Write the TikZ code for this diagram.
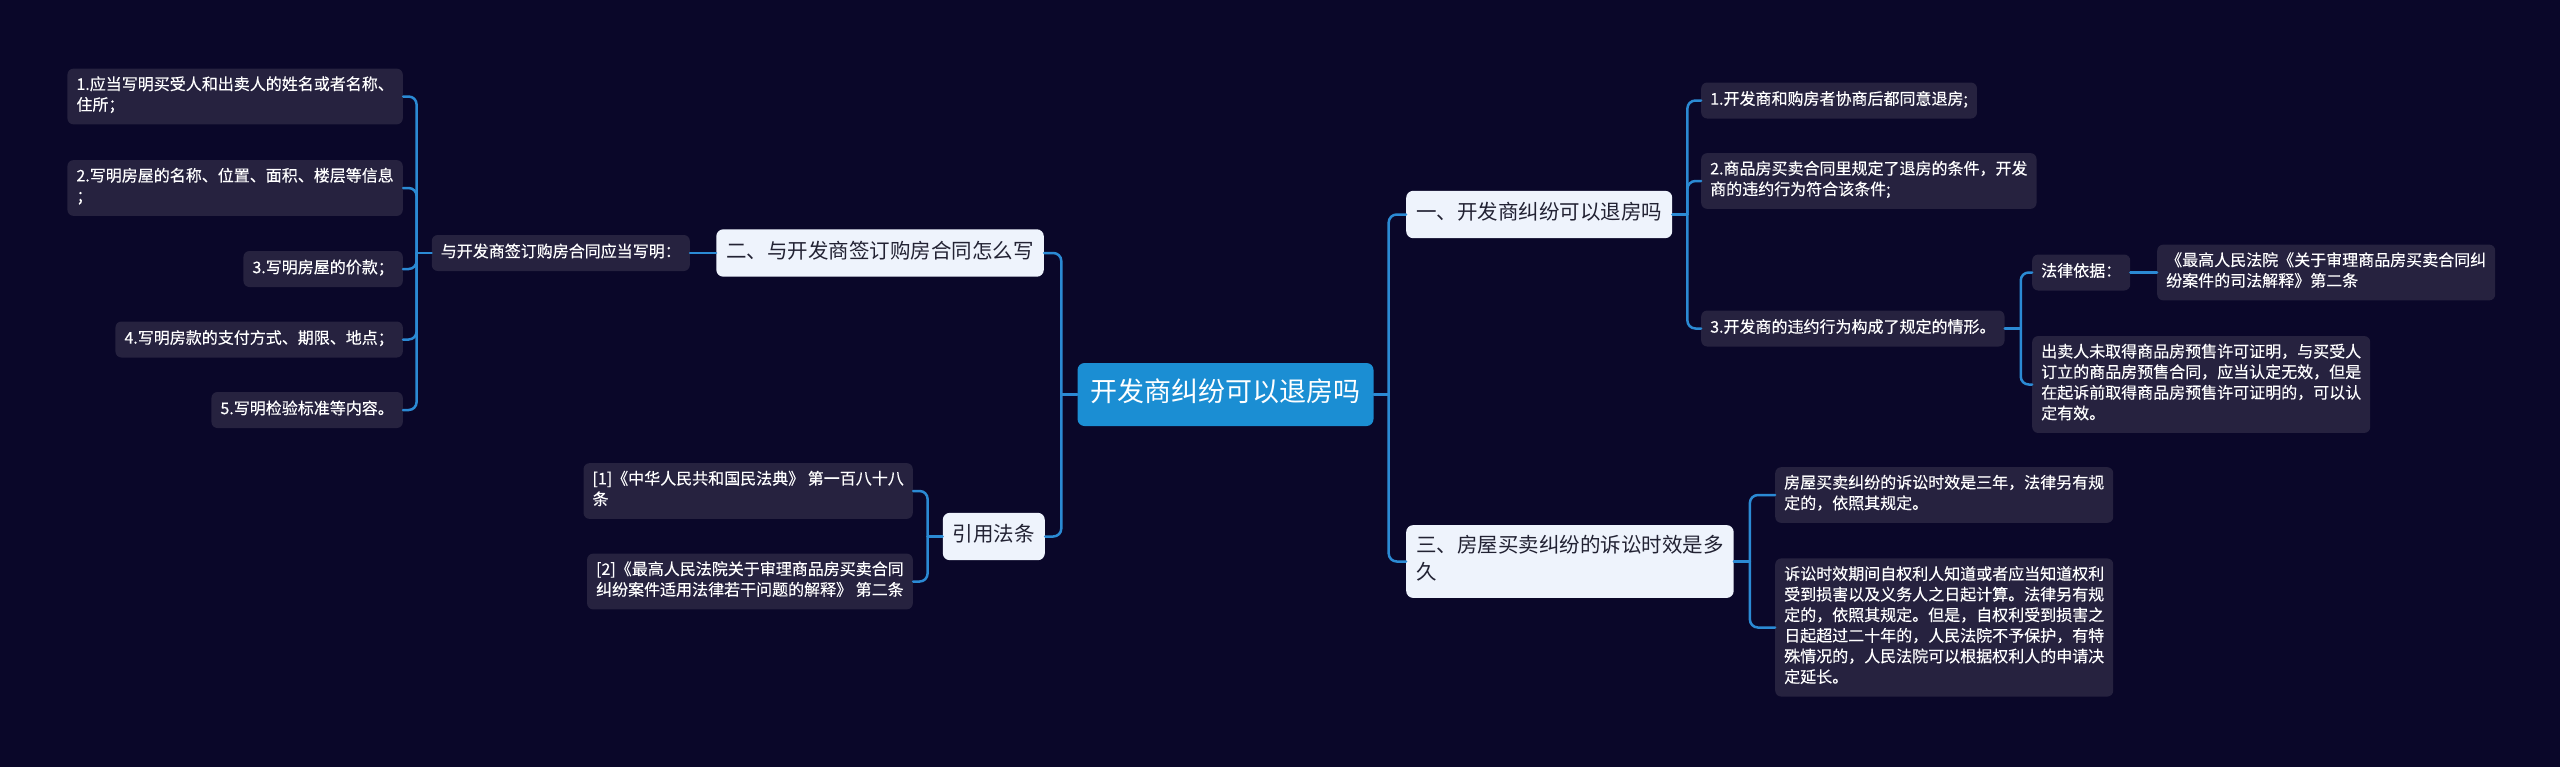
\documentclass[tikz,border=0pt]{standalone}
\usepackage{fontspec}
\newfontfamily\cjk{Noto Sans CJK SC}
\newfontfamily\cjkleaf[FakeBold=0.3]{Noto Sans CJK SC}
\definecolor{bgnavy}{HTML}{0A0729}
\definecolor{leaffill}{HTML}{26223F}
\definecolor{topicfill}{HTML}{EEF3FC}
\definecolor{topictext}{HTML}{222233}
\definecolor{rootblue}{HTML}{1B8ED3}
\definecolor{linkblue}{HTML}{2B8AD4}

\begin{document}
\begin{tikzpicture}[x=1pt,y=-1pt]
    % Define styles
    \tikzset{
        leaf/.style={fill=leaffill, text=white, rounded corners=6, inner xsep=9, inner ysep=7.7,
            align=left, font=\cjkleaf\fontsize{16}{20.6}\selectfont,
            execute at begin node=\strut, execute at end node=\strut},
        topic/.style={fill=topicfill, text=topictext, rounded corners=7, inner xsep=10, inner ysep=10.2,
            align=left, font=\cjk\fontsize{20.5}{27}\selectfont,
            execute at begin node=\strut, execute at end node=\strut},
        root/.style={fill=rootblue, text=white, rounded corners=7, inner xsep=13, inner ysep=14.5,
            font=\cjk\fontsize{27}{34}\selectfont,
            execute at begin node=\strut, execute at end node=\strut},
        conn/.style={draw=linkblue, line width=2.5, line cap=round, rounded corners=8}
    }

    % Background
    \useasboundingbox (0,0) rectangle (2560,766);
    \fill[bgnavy] (-10,-10) rectangle (2570,776);

    % Root
    \node[root] (root) at (1225.5,394.5) {开发商纠纷可以退房吗};

    % Left branch: contract
    \node[topic, anchor=east] (two) at (1044,253) {二、与开发商签订购房合同怎么写};
    \node[leaf, anchor=east] (twosub) at (690,253) {与开发商签订购房合同应当写明：};
    \node[leaf, anchor=east] (l1) at (403,96.5) {1.应当写明买受人和出卖人的姓名或者名称、\\住所；};
    \node[leaf, anchor=east] (l2) at (403,188) {2.写明房屋的名称、位置、面积、楼层等信息\\；};
    \node[leaf, anchor=east] (l3) at (403,269) {3.写明房屋的价款；};
    \node[leaf, anchor=east] (l4) at (403,339.5) {4.写明房款的支付方式、期限、地点；};
    \node[leaf, anchor=east] (l5) at (403,410) {5.写明检验标准等内容。};

    % Left branch: cited laws
    \node[topic, anchor=east] (refs) at (1045,536.5) {引用法条};
    \node[leaf, anchor=east] (r1) at (913,491) {[1]《中华人民共和国民法典》 第一百八十八\\条};
    \node[leaf, anchor=east] (r2) at (913,581.5) {[2]《最高人民法院关于审理商品房买卖合同\\纠纷案件适用法律若干问题的解释》 第二条};

    % Right branch: refund
    \node[topic, anchor=west] (one) at (1406,214.5) {一、开发商纠纷可以退房吗};
    \node[leaf, anchor=west] (a1) at (1701,100.5) {1.开发商和购房者协商后都同意退房;};
    \node[leaf, anchor=west] (a2) at (1701,181) {2.商品房买卖合同里规定了退房的条件，开发\\商的违约行为符合该条件;};
    \node[leaf, anchor=west] (a3) at (1701,328.5) {3.开发商的违约行为构成了规定的情形。};
    \node[leaf, anchor=west] (b1) at (2032,272.5) {法律依据：};
    \node[leaf, anchor=west] (b1a) at (2157,272.5) {《最高人民法院《关于审理商品房买卖合同纠\\纷案件的司法解释》第二条};
    \node[leaf, anchor=west] (b2) at (2032,384.5) {出卖人未取得商品房预售许可证明，与买受人\\订立的商品房预售合同，应当认定无效，但是\\在起诉前取得商品房预售许可证明的，可以认\\定有效。};

    % Right branch: limitation period
    \node[topic, anchor=west] (three) at (1406,561.5) {三、房屋买卖纠纷的诉讼时效是多\\久};
    \node[leaf, anchor=west] (c1) at (1775,495) {房屋买卖纠纷的诉讼时效是三年，法律另有规\\定的，依照其规定。};
    \node[leaf, anchor=west] (c2) at (1775,627.5) {诉讼时效期间自权利人知道或者应当知道权利\\受到损害以及义务人之日起计算。法律另有规\\定的，依照其规定。但是，自权利受到损害之\\日起超过二十年的，人民法院不予保护，有特\\殊情况的，人民法院可以根据权利人的申请决\\定延长。};

    % Connectors
    \draw[conn] (root.west) -- ++(-16,0) coordinate (rootL);
    \draw[conn] (root.east) -- ++(15,0) coordinate (rootR);
    \foreach \t in {two,refs} \draw[conn] (rootL) |- (\t.east);
    \foreach \t in {one,three} \draw[conn] (rootR) |- (\t.west);

    \draw[conn] (two.west) -- (twosub.east);
    \draw[conn] (twosub.west) -- ++(-15,0) coordinate (subL);
    \foreach \t in {l1,l2,l3,l4,l5} \draw[conn] (subL) |- (\t.east);

    \draw[conn] (refs.west) -- ++(-15,0) coordinate (refsL);
    \foreach \t in {r1,r2} \draw[conn] (refsL) |- (\t.east);

    \draw[conn] (one.east) -- ++(15,0) coordinate (oneR);
    \foreach \t in {a1,a2,a3} \draw[conn] (oneR) |- (\t.west);

    \draw[conn] (a3.east) -- ++(16,0) coordinate (a3R);
    \foreach \t in {b1,b2} \draw[conn] (a3R) |- (\t.west);
    \draw[conn] (b1.east) -- (b1a.west);

    \draw[conn] (three.east) -- ++(16,0) coordinate (threeR);
    \foreach \t in {c1,c2} \draw[conn] (threeR) |- (\t.west);
\end{tikzpicture}
\end{document}
